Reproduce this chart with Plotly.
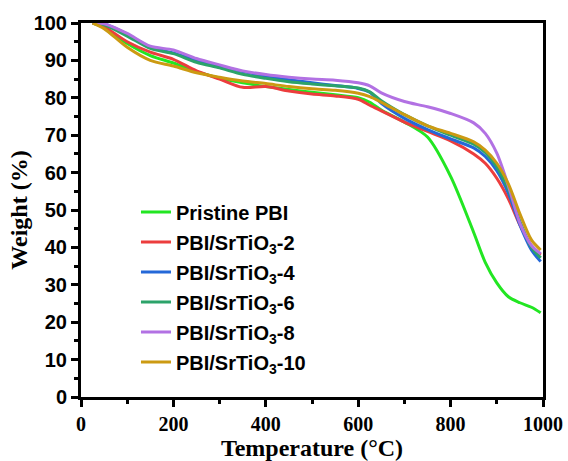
import plotly.graph_objects as go

# Temperature grid (°C) shared by every TGA curve
temp = [25, 50, 100, 150, 200, 250, 300, 350, 400, 450, 500, 550, 600, 625,
        650, 700, 750, 800, 850, 875, 900, 925, 950, 975, 995]

# Weight retention (%) of each membrane
w_pristine = [100, 98.8, 94.5, 91.3, 89.3, 87.0, 85.3, 84.0, 83.0, 82.2, 81.5, 80.8, 80.0, 78.8,
              76.7, 73.5, 69.5, 59.0, 44.0, 36.0, 30.5, 26.8, 25.2, 24.0, 22.5]
w_st2 = [100, 99.0, 95.0, 92.2, 90.3, 87.2, 85.0, 82.8, 83.0, 81.8, 81.0, 80.5, 79.6, 78.0,
         76.5, 73.5, 71.0, 68.5, 65.0, 62.5, 58.5, 53.0, 46.0, 40.5, 38.0]
w_st4 = [100, 99.8, 97.0, 93.5, 92.0, 90.0, 88.5, 87.0, 85.8, 84.8, 84.0, 83.3, 82.5, 81.5,
         78.5, 74.5, 71.5, 69.0, 66.6, 64.3, 60.5, 54.5, 46.0, 39.3, 36.2]
w_st6 = [100, 99.5, 96.5, 93.2, 91.8, 89.5, 88.0, 86.3, 85.2, 84.3, 83.7, 83.2, 82.6, 81.6,
         79.2, 75.5, 72.5, 70.0, 67.6, 65.4, 61.5, 55.5, 47.0, 40.0, 37.2]
w_st8 = [100, 99.8, 97.2, 93.8, 92.8, 90.5, 88.8, 87.2, 86.2, 85.5, 85.0, 84.7, 84.0, 83.2,
         81.3, 79.0, 77.6, 75.8, 73.3, 70.5, 65.2, 56.5, 46.5, 40.5, 38.3]
w_st10 = [100, 98.5, 93.5, 90.0, 88.5, 86.7, 85.5, 84.5, 83.8, 83.0, 82.4, 82.0, 81.2, 80.3,
          78.8, 75.5, 72.5, 70.5, 68.2, 66.0, 62.5, 57.0, 49.0, 42.0, 39.3]

names = ["Pristine PBI", "PBI/SrTiO<sub>3</sub>-2", "PBI/SrTiO<sub>3</sub>-4",
         "PBI/SrTiO<sub>3</sub>-6", "PBI/SrTiO<sub>3</sub>-8", "PBI/SrTiO<sub>3</sub>-10"]
series = [w_pristine, w_st2, w_st4, w_st6, w_st8, w_st10]
colors = ["#22e622", "#ec3d3d", "#2468d8", "#2ca36a", "#b271e3", "#cc9a12"]

fig = go.Figure()
for i, (name, w, c) in enumerate(zip(names, series, colors)):
    fig.add_trace(go.Scatter(
        x=temp, y=w, name=name, mode="lines",
        line=dict(color=c, width=3, shape="spline", smoothing=0.8),
        legendgroup=f"g{i}",
    ))

sans_bold = dict(family="Liberation Sans, Arial", size=20, color="black", weight="bold")
serif_bold = dict(family="Liberation Serif, Times New Roman", size=20, color="black", weight="bold")
title_font = dict(family="Liberation Serif, Times New Roman", size=24, color="black", weight="bold")

fig.update_layout(
    width=568, height=461,
    margin=dict(l=81, r=25, t=23, b=64),
    paper_bgcolor="white", plot_bgcolor="white",
    showlegend=True,
    legend=dict(
        x=0.119, y=0.547, xanchor="left", yanchor="top",
        bgcolor="rgba(0,0,0,0)", font=sans_bold,
        tracegroupgap=1, itemwidth=30,
    ),
)

fig.update_xaxes(
    range=[0, 1000], dtick=200, tick0=0, automargin=False,
    showline=True, linewidth=3, linecolor="black", mirror=True,
    ticks="outside", ticklen=7, tickwidth=2.5, tickcolor="black",
    minor=dict(ticks="outside", ticklen=4, tickwidth=2.5, dtick=100, tickcolor="black"),
    showgrid=False, zeroline=False,
    tickfont=serif_bold,
    title=dict(text="Temperature (°C)", font=title_font, standoff=1),
)
fig.update_yaxes(
    range=[0, 100], dtick=10, tick0=0, automargin=False,
    showline=True, linewidth=3, linecolor="black", mirror=True,
    ticks="outside", ticklen=7, tickwidth=2.5, tickcolor="black",
    minor=dict(ticks="outside", ticklen=4, tickwidth=2.5, dtick=5, tickcolor="black"),
    showgrid=False, zeroline=False,
    tickfont=sans_bold,
    title=dict(text="Weight (%)", font=title_font, standoff=0),
)

fig.write_html("out.html")
